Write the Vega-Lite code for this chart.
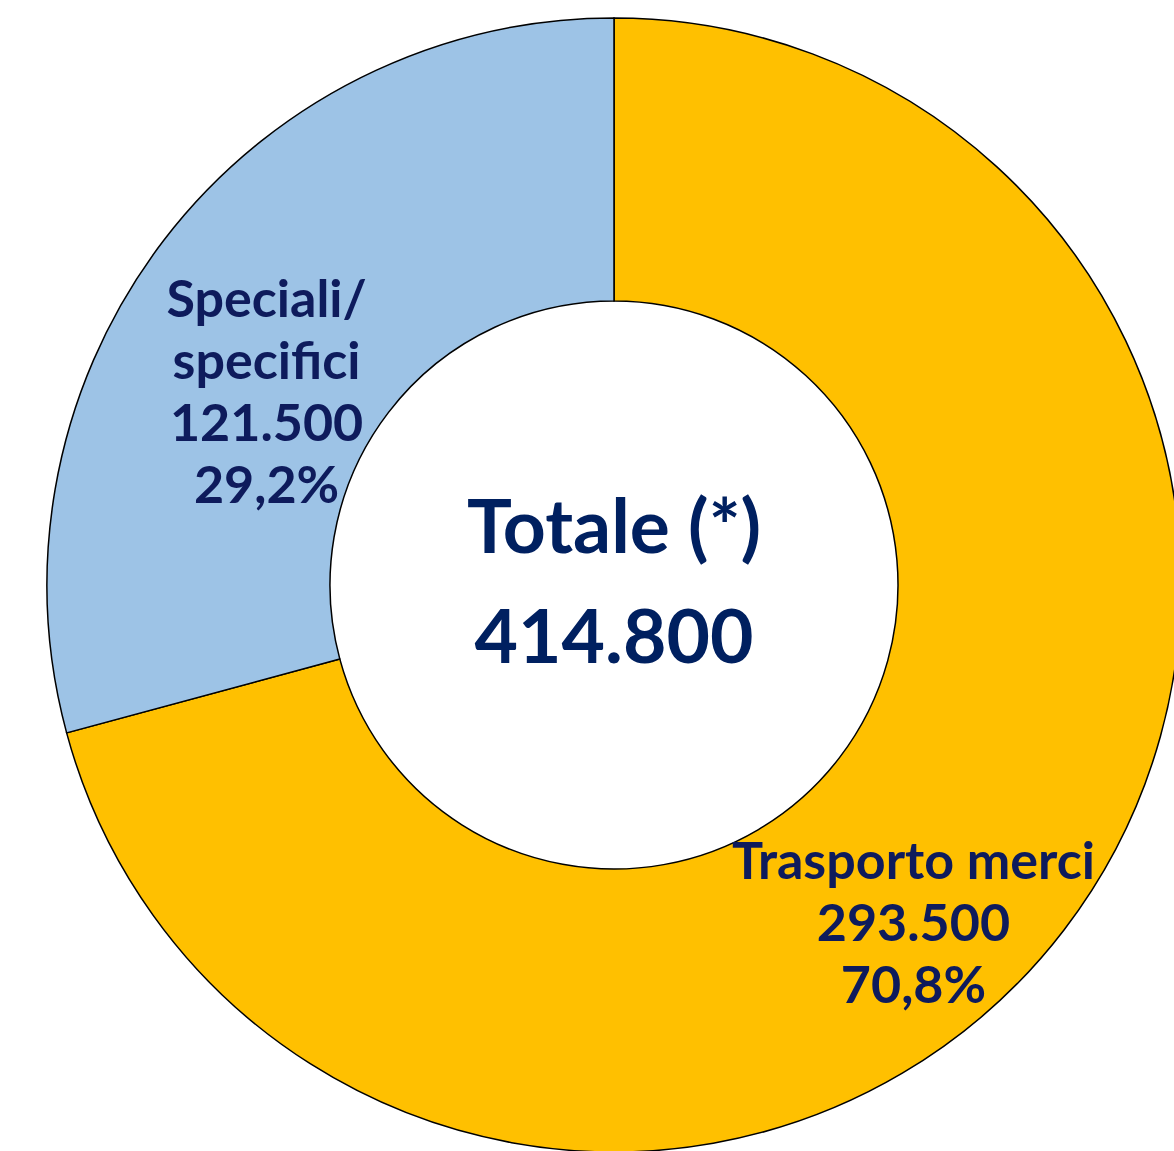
{
  "$schema": "https://vega.github.io/schema/vega-lite/v6.json",
  "width": 1228,
  "height": 1170,
  "autosize": "none",
  "padding": {"left": 0, "top": 0, "right": -54, "bottom": -19},
  "background": "white",
  "config": {
    "view": {"stroke": null},
    "locale": {"number": {"decimal": ",", "thousands": ".", "grouping": [3], "currency": ["€", ""]}}
  },
  "datasets": {
    "segmenti": [
      {"categoria": "Trasporto merci", "valore": 293500, "quota": 0.708},
      {"categoria": "Speciali/ specifici", "valore": 121500, "quota": 0.292}
    ],
    "totale": [
      {"etichetta": "Totale (*)", "valore": 414800}
    ]
  },
  "data": {"name": "segmenti"},
  "transform": [
    {"calculate": "replace(datum.categoria, '/ ', '/\\n') + '\\n' + format(datum.valore, ',.0f') + '\\n' + format(datum.quota, '.1%')", "as": "etichetta"}
  ],
  "layer": [
    {
      "mark": {"type": "arc", "radius": 567, "radius2": 284, "stroke": "black", "strokeWidth": 1.5},
      "encoding": {
        "theta": {"field": "quota", "type": "quantitative", "stack": true},
        "order": {"field": "quota", "sort": "descending"},
        "color": {
          "field": "categoria",
          "type": "nominal",
          "scale": {"domain": ["Trasporto merci", "Speciali/ specifici"], "range": ["#FFC000", "#9DC3E6"]},
          "legend": null
        }
      }
    },
    {
      "mark": {
        "type": "text",
        "radius": 425,
        "font": "Lato",
        "fontSize": 52,
        "fontWeight": "bold",
        "lineHeight": 62,
        "lineBreak": "\n",
        "align": "center",
        "baseline": "middle",
        "fill": "#0E1B5C",
        "dx": {"expr": "datum.categoria == 'Trasporto merci' ? -38 : -10"},
        "dy": {"expr": "datum.categoria == 'Trasporto merci' ? 20 : -26"}
      },
      "encoding": {
        "theta": {"field": "quota", "type": "quantitative", "stack": true},
        "order": {"field": "quota", "sort": "descending"},
        "detail": {"field": "categoria", "type": "nominal"},
        "text": {"field": "etichetta", "type": "nominal"}
      }
    },
    {
      "data": {"name": "totale"},
      "transform": [
        {"calculate": "datum.etichetta + '\\n' + format(datum.valore, ',.0f')", "as": "testo"}
      ],
      "mark": {
        "type": "text",
        "font": "Lato",
        "fontSize": 75,
        "fontWeight": "bold",
        "lineHeight": 110,
        "lineBreak": "\n",
        "align": "center",
        "baseline": "middle",
        "fill": "#002060",
        "dy": -55
      },
      "encoding": {
        "text": {"field": "testo", "type": "nominal"}
      }
    }
  ]
}
